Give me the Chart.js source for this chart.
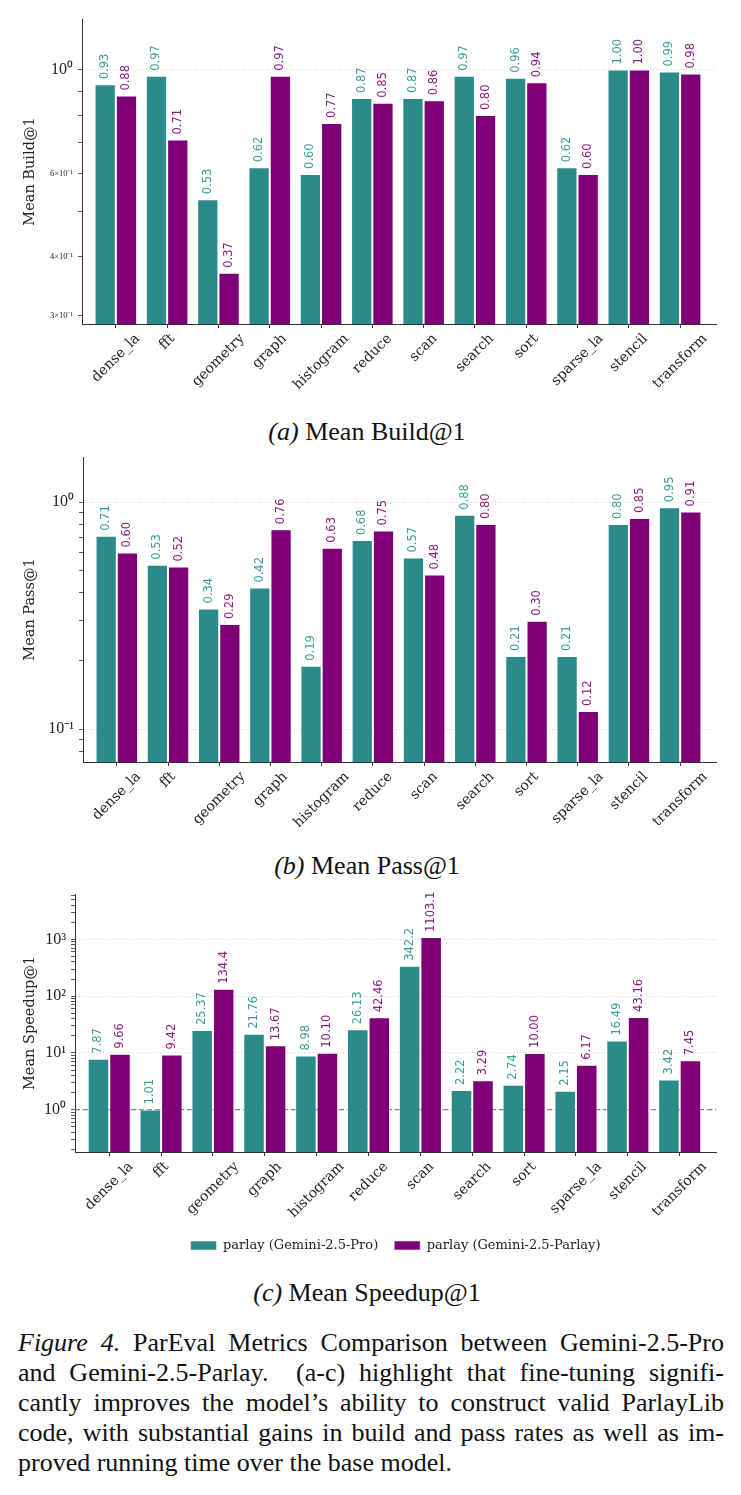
<!DOCTYPE html>
<html>
<head>
<meta charset="utf-8">
<script src="https://cdn.jsdelivr.net/npm/chart.js@4.4.0/dist/chart.umd.min.js"></script>
<style>
  body { margin: 0; background: #fff; width: 741px; height: 1495px; position: relative; overflow: hidden; }
  canvas { position: absolute; left: 0; }
  .sub { position: absolute; left: 0; width: 734px; text-align: center; font-family: 'Liberation Serif', serif; font-size: 26px; line-height: 30px; color: #111; }
  .cap { position: absolute; left: 18px; width: 706px; font-family: 'Liberation Serif', serif; font-size: 26px; line-height: 30px; color: #111; }
  .cap div { white-space: nowrap; text-align: justify; text-align-last: justify; }
  .cap div.last { text-align-last: left; }
</style>
</head>
<body>
<canvas id="build" width="741" height="410" style="top:0px"></canvas>
<div class="sub" style="top:417px"><i>(a)</i> Mean Build@1</div>
<canvas id="pass" width="741" height="400" style="top:440px"></canvas>
<div class="sub" style="top:851px"><i>(b)</i> Mean Pass@1</div>
<canvas id="speed" width="741" height="382" style="top:880px"></canvas>
<div class="sub" style="top:1278px"><i>(c)</i> Mean Speedup@1</div>
<div class="cap" style="top:1328px">
  <div><i>Figure 4.</i> ParEval Metrics Comparison between Gemini-2.5-Pro</div>
  <div>and Gemini-2.5-Parlay.&nbsp; (a-c) highlight that fine-tuning signifi-</div>
  <div>cantly improves the model’s ability to construct valid ParlayLib</div>
  <div>code, with substantial gains in build and pass rates as well as im-</div>
  <div class="last">proved running time over the base model.</div>
</div>
<script>
// categories and series
const categories = ['dense_la', 'fft', 'geometry', 'graph', 'histogram', 'reduce', 'scan', 'search', 'sort', 'sparse_la', 'stencil', 'transform'];
const seriesNames = ['parlay (Gemini-2.5-Pro)', 'parlay (Gemini-2.5-Parlay)'];

const buildPro    = [0.93, 0.97, 0.53, 0.62, 0.60, 0.87, 0.87, 0.97, 0.96, 0.62, 1.00, 0.99];
const buildParlay = [0.88, 0.71, 0.37, 0.97, 0.77, 0.85, 0.86, 0.80, 0.94, 0.60, 1.00, 0.98];
const passPro     = [0.71, 0.53, 0.34, 0.42, 0.19, 0.68, 0.57, 0.88, 0.21, 0.21, 0.80, 0.95];
const passParlay  = [0.60, 0.52, 0.29, 0.76, 0.63, 0.75, 0.48, 0.80, 0.30, 0.12, 0.85, 0.91];
const speedPro    = [7.87, 1.01, 25.37, 21.76, 8.98, 26.13, 342.2, 2.22, 2.74, 2.15, 16.49, 3.42];
const speedParlay = [9.66, 9.42, 134.4, 13.67, 10.10, 42.46, 1103.1, 3.29, 10.00, 6.17, 43.16, 7.45];

// log axis ticks (major = powers of ten) and their labels
const buildTicks = [0.3, 0.4, 0.5, 0.6, 0.7, 0.8, 0.9, 1];
const buildMajor = [1];
const buildTickLabels = { 0.3: '3×10⁻¹', 0.4: '4×10⁻¹', 0.6: '6×10⁻¹', 1: '10⁰' };

const passTicks = [0.08, 0.09, 0.1, 0.2, 0.3, 0.4, 0.5, 0.6, 0.7, 0.8, 0.9, 1];
const passMajor = [0.1, 1];
const passTickLabels = { 0.1: '10⁻¹', 1: '10⁰' };

const speedTicks = [0.2, 0.3, 0.4, 0.5, 0.6, 0.7, 0.8, 0.9,
                    1, 2, 3, 4, 5, 6, 7, 8, 9,
                    10, 20, 30, 40, 50, 60, 70, 80, 90,
                    100, 200, 300, 400, 500, 600, 700, 800, 900,
                    1000, 2000, 3000, 4000, 5000, 6000];
const speedMajor = [1, 10, 100, 1000];
const speedTickLabels = { 1: '10⁰', 10: '10¹', 100: '10²', 1000: '10³' };

const TEAL = '#2a8b8a';
const PURPLE = '#7f0076';
const TEAL_TXT = '#3a9d99';
const PURPLE_TXT = '#8c1a86';
const DJ_SERIF = "'DejaVu Serif', serif";
const TIMES = "'Liberation Serif', serif";
const DJ_SANS = "'DejaVu Sans', sans-serif";

// rotated value labels above each bar
function valueLabels(fmt) {
    return {
        id: 'valueLabels',
        afterDatasetsDraw(chart) {
            const ctx = chart.ctx;
            ctx.save();
            ctx.font = '11.5px ' + DJ_SANS;
            chart.data.datasets.forEach((ds, di) => {
                if (ds.type === 'line') return;
                const meta = chart.getDatasetMeta(di);
                meta.data.forEach((bar, i) => {
                    ctx.save();
                    ctx.translate(bar.x, bar.y - 5);
                    ctx.rotate(-Math.PI / 2);
                    ctx.fillStyle = ds.labelColor;
                    ctx.textAlign = 'left';
                    ctx.textBaseline = 'middle';
                    ctx.fillText(fmt(ds.data[i].y), 0, 0);
                    ctx.restore();
                });
            });
            ctx.restore();
        }
    };
}

// category labels rotated 45deg, box centred under the tick (matplotlib ha='center')
const xLabels = {
    id: 'xLabels',
    afterDraw(chart) {
        const xs = chart.scales.x;
        const ctx = chart.ctx;
        const size = 14;
        ctx.save();
        ctx.font = size + 'px ' + DJ_SERIF;
        ctx.fillStyle = '#222';
        categories.forEach((c, i) => {
            const w = ctx.measureText(c).width;
            const side = (w + size * 1.1) * Math.SQRT1_2;
            const cx = xs.getPixelForValue(i);
            const cy = xs.top + 7 + side / 2;
            ctx.save();
            ctx.translate(cx, cy);
            ctx.rotate(-Math.PI / 4);
            ctx.textAlign = 'center';
            ctx.textBaseline = 'middle';
            ctx.fillText(c, 0, 0);
            ctx.restore();
        });
        ctx.restore();
    }
};

function makeChart(id, o) {
    const W = 741;
    const datasets = [
        { label: seriesNames[0], data: o.pro.map((v, i) => ({ x: i, y: v })), backgroundColor: TEAL,
          borderColor: 'rgba(255,255,255,0.55)', borderWidth: 1, labelColor: TEAL_TXT },
        { label: seriesNames[1], data: o.parlay.map((v, i) => ({ x: i, y: v })), backgroundColor: PURPLE,
          borderColor: 'rgba(255,255,255,0.55)', borderWidth: 1, labelColor: PURPLE_TXT }
    ];
    if (o.refLine) {
        datasets.push({ type: 'line', label: 'ref', data: [{ x: -0.66, y: 1 }, { x: 11.7, y: 1 }],
            borderColor: '#808080', borderWidth: 1.3, borderDash: [5, 3], pointRadius: 0, order: 10 });
    }
    return new Chart(document.getElementById(id), {
        type: 'bar',
        data: { datasets: datasets },
        options: {
            responsive: false,
            animation: false,
            devicePixelRatio: 1,
            events: [],
            datasets: { bar: { categoryPercentage: 0.83, barPercentage: 1 } },
            layout: { padding: { top: o.area.top, right: W - o.area.right, left: 0, bottom: 0 } },
            plugins: {
                tooltip: { enabled: false },
                legend: o.legend ? {
                    display: true,
                    position: 'bottom',
                    fullSize: false,
                    labels: {
                        filter: item => item.datasetIndex < 2,
                        boxWidth: 26, boxHeight: 9, padding: 16,
                        color: '#222', font: { family: DJ_SERIF, size: 13 }
                    }
                } : { display: false }
            },
            scales: {
                x: {
                    type: 'linear', min: -0.66, max: 11.7, offset: false,
                    afterBuildTicks: s => { s.ticks = categories.map((c, i) => ({ value: i })); },
                    afterFit: s => { s.height = o.xHeight; },
                    grid: { drawOnChartArea: false, offset: false, tickLength: 4, tickColor: '#333' },
                    border: { color: '#333', width: 1 },
                    ticks: { display: false, autoSkip: false }
                },
                y: {
                    type: 'logarithmic', min: o.yMin, max: o.yMax,
                    afterBuildTicks: s => { s.ticks = o.yTicks.map(v => ({ value: v })); },
                    afterFit: s => { s.width = o.area.left; },
                    grid: {
                        color: c => (c.tick && o.major.includes(c.tick.value)) ? 'rgba(0,0,0,0.22)' : 'rgba(0,0,0,0)',
                        lineWidth: 0.8, tickLength: 4, tickColor: '#333'
                    },
                    border: { color: '#333', width: 1, dash: [1, 2] },
                    ticks: {
                        autoSkip: false, padding: 5, color: '#222',
                        font: c => ({ family: TIMES, size: (c.tick && o.major.includes(c.tick.value)) ? 16 : 8.5 }),
                        callback: v => o.labels[v] || ''
                    },
                    title: {
                        display: true, text: o.yTitle, color: '#222',
                        font: { family: DJ_SERIF, size: 14.5 }, padding: { top: 22, bottom: 0 }
                    }
                }
            }
        },
        plugins: [valueLabels(o.fmt), xLabels]
    });
}

makeChart('build', {
    pro: buildPro, parlay: buildParlay, yMin: 0.288, yMax: 1.28,
    yTicks: buildTicks, major: buildMajor, labels: buildTickLabels, yTitle: 'Mean Build@1',
    area: { left: 82, right: 716, top: 19 }, xHeight: 86, legend: false,
    fmt: v => v.toFixed(2)
});

makeChart('pass', {
    pro: passPro, parlay: passParlay, yMin: 0.0716, yMax: 1.58,
    yTicks: passTicks, major: passMajor, labels: passTickLabels, yTitle: 'Mean Pass@1',
    area: { left: 83, right: 716, top: 17 }, xHeight: 78, legend: false,
    fmt: v => v.toFixed(2)
});

makeChart('speed', {
    pro: speedPro, parlay: speedParlay, yMin: 0.18, yMax: 6300,
    yTicks: speedTicks, major: speedMajor, labels: speedTickLabels, yTitle: 'Mean Speedup@1',
    area: { left: 75, right: 716, top: 14 }, xHeight: 71, legend: true, refLine: true,
    fmt: v => v >= 100 ? v.toFixed(1) : v.toFixed(2)
});
</script>
</body>
</html>
